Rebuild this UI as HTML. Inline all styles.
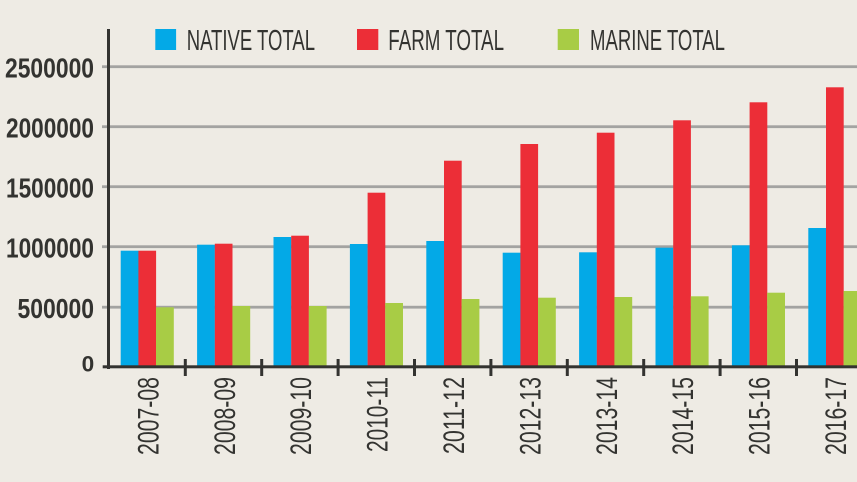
<!DOCTYPE html>
<html>
<head>
<meta charset="utf-8">
<style>
  html, body { margin: 0; padding: 0; background: #EEEBE4; }
  svg { display: block; }
</style>
</head>
<body>
<svg width="857" height="482" viewBox="0 0 857 482" xmlns="http://www.w3.org/2000/svg">
  <rect x="0" y="0" width="857" height="482" fill="#EEEBE4"/>

  <!-- gridlines -->
  <g fill="#A3A3A1">
    <rect x="102" y="65.3" width="755" height="2.8"/>
    <rect x="102" y="125.3" width="755" height="2.8"/>
    <rect x="102" y="185.3" width="755" height="2.8"/>
    <rect x="102" y="245.3" width="755" height="2.8"/>
    <rect x="102" y="305.8" width="755" height="2.8"/>
  </g>

  <!-- bars -->
  <g>
    <!-- blue -->
    <g fill="#03A9E7">
      <rect x="120.7" y="250.7" width="17.8" height="115.3"/>
      <rect x="197.1" y="244.7" width="17.8" height="121.3"/>
      <rect x="273.5" y="237" width="17.8" height="129"/>
      <rect x="349.9" y="244" width="17.8" height="122"/>
      <rect x="426.3" y="241" width="17.8" height="125"/>
      <rect x="502.7" y="252.7" width="17.8" height="113.3"/>
      <rect x="579.1" y="252.3" width="17.8" height="113.7"/>
      <rect x="655.5" y="247.7" width="17.8" height="118.3"/>
      <rect x="731.9" y="245.3" width="17.8" height="120.7"/>
      <rect x="808.3" y="228" width="17.8" height="138"/>
    </g>
    <!-- red -->
    <g fill="#EC2E37">
      <rect x="138.4" y="250.7" width="17.7" height="115.3"/>
      <rect x="214.8" y="243.7" width="17.7" height="122.3"/>
      <rect x="291.2" y="235.7" width="17.7" height="130.3"/>
      <rect x="367.6" y="192.7" width="17.7" height="173.3"/>
      <rect x="444" y="160.7" width="17.7" height="205.3"/>
      <rect x="520.4" y="144" width="17.7" height="222"/>
      <rect x="596.8" y="132.7" width="17.7" height="233.3"/>
      <rect x="673.2" y="120.3" width="17.7" height="245.7"/>
      <rect x="749.6" y="102.3" width="17.7" height="263.7"/>
      <rect x="826" y="87.3" width="17.7" height="278.7"/>
    </g>
    <!-- green -->
    <g fill="#A8CC45">
      <rect x="156" y="307.3" width="17.8" height="58.7"/>
      <rect x="232.4" y="306" width="17.8" height="60"/>
      <rect x="308.8" y="306" width="17.8" height="60"/>
      <rect x="385.2" y="303" width="17.8" height="63"/>
      <rect x="461.6" y="299" width="17.8" height="67"/>
      <rect x="538" y="297.7" width="17.8" height="68.3"/>
      <rect x="614.4" y="297" width="17.8" height="69"/>
      <rect x="690.8" y="296.3" width="17.8" height="69.7"/>
      <rect x="767.2" y="292.7" width="17.8" height="73.3"/>
      <rect x="843.6" y="291" width="17.8" height="75"/>
    </g>
  </g>

  <!-- axes -->
  <g fill="#333330">
    <rect x="107" y="29" width="3" height="340"/>
    <rect x="102.7" y="365.3" width="754.3" height="3"/>
    <!-- ticks -->
    <rect x="183.8" y="359" width="3" height="17"/>
    <rect x="260.2" y="359" width="3" height="17"/>
    <rect x="336.6" y="359" width="3" height="17"/>
    <rect x="413" y="359" width="3" height="17"/>
    <rect x="489.4" y="359" width="3" height="17"/>
    <rect x="565.8" y="359" width="3" height="17"/>
    <rect x="642.2" y="359" width="3" height="17"/>
    <rect x="718.6" y="359" width="3" height="17"/>
    <rect x="795" y="359" width="3" height="17"/>
  </g>

  <!-- y labels -->
  <g font-family="'Liberation Sans Narrow','Liberation Sans',sans-serif" font-weight="bold" font-size="28" fill="#333330" text-anchor="end">
    <text x="94" y="77.5" textLength="89" lengthAdjust="spacingAndGlyphs">2500000</text>
    <text x="94" y="137.5" textLength="88" lengthAdjust="spacingAndGlyphs">2000000</text>
    <text x="94" y="197.5" textLength="88" lengthAdjust="spacingAndGlyphs">1500000</text>
    <text x="94" y="257.5" textLength="88" lengthAdjust="spacingAndGlyphs">1000000</text>
    <text x="94" y="318" textLength="76.5" lengthAdjust="spacingAndGlyphs">500000</text>
    <text x="94.3" y="371.7" font-size="22" textLength="12.6" lengthAdjust="spacingAndGlyphs">0</text>
  </g>

  <!-- x labels -->
  <g font-family="'Liberation Sans Narrow','Liberation Sans',sans-serif" font-size="30" fill="#333330" text-anchor="end">
    <text transform="translate(158.4,377) rotate(-90)" textLength="78" lengthAdjust="spacingAndGlyphs">2007-08</text>
    <text transform="translate(234.8,377) rotate(-90)" textLength="78" lengthAdjust="spacingAndGlyphs">2008-09</text>
    <text transform="translate(311.2,377) rotate(-90)" textLength="78" lengthAdjust="spacingAndGlyphs">2009-10</text>
    <text transform="translate(387.6,377) rotate(-90)" textLength="75" lengthAdjust="spacingAndGlyphs">2010-11</text>
    <text transform="translate(464,377) rotate(-90)" textLength="77" lengthAdjust="spacingAndGlyphs">2011-12</text>
    <text transform="translate(540.4,377) rotate(-90)" textLength="78" lengthAdjust="spacingAndGlyphs">2012-13</text>
    <text transform="translate(616.8,377) rotate(-90)" textLength="78" lengthAdjust="spacingAndGlyphs">2013-14</text>
    <text transform="translate(693.2,377) rotate(-90)" textLength="78" lengthAdjust="spacingAndGlyphs">2014-15</text>
    <text transform="translate(769.6,377) rotate(-90)" textLength="78" lengthAdjust="spacingAndGlyphs">2015-16</text>
    <text transform="translate(846,377) rotate(-90)" textLength="78" lengthAdjust="spacingAndGlyphs">2016-17</text>
  </g>

  <!-- legend -->
  <rect x="155.3" y="29" width="20.8" height="21" fill="#03A9E7"/>
  <rect x="357" y="29" width="21.3" height="21" fill="#EC2E37"/>
  <rect x="557.7" y="29" width="21.3" height="21" fill="#A8CC45"/>
  <g font-family="'Liberation Sans Narrow','Liberation Sans',sans-serif" font-size="29" fill="#333330">
    <text x="186.7" y="50" textLength="128.3" lengthAdjust="spacingAndGlyphs">NATIVE TOTAL</text>
    <text x="388.3" y="50" textLength="115.7" lengthAdjust="spacingAndGlyphs">FARM TOTAL</text>
    <text x="590" y="50" textLength="135" lengthAdjust="spacingAndGlyphs">MARINE TOTAL</text>
  </g>
</svg>
</body>
</html>
